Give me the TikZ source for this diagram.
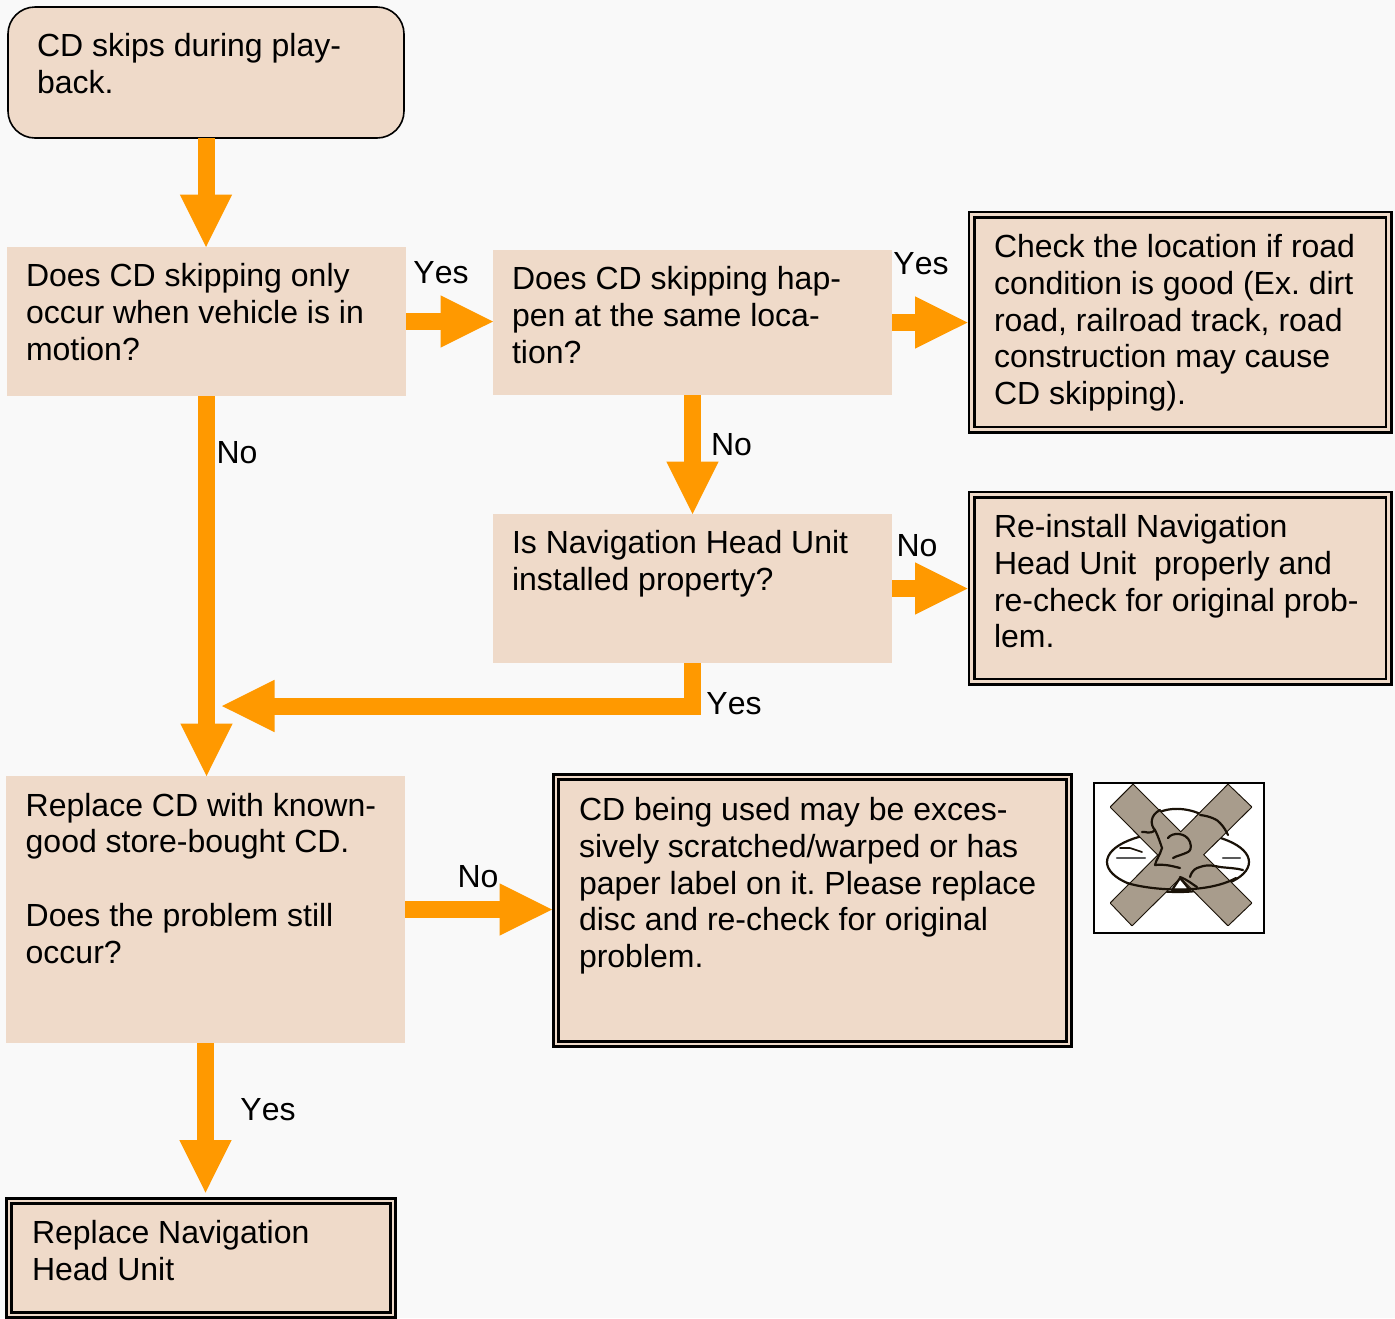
\documentclass[tikz,border=0pt]{standalone}
\usepackage{fontspec}
\setmainfont{Liberation Sans}
\newfontfamily\labfont[Kerning=Off]{Liberation Sans}
\usetikzlibrary{arrows.meta}
\definecolor{pagebg}{HTML}{F9F9F9}
\definecolor{peach}{HTML}{EFDAC9}
\definecolor{flowor}{HTML}{FF9900}
\definecolor{taupe}{HTML}{A89C8C}
\definecolor{inkdk}{HTML}{1A1208}
\newcommand{\boxtext}[5]{\parbox[c][\dimexpr#2pt-10pt\relax][t]{\dimexpr#1pt-10pt\relax}{\frenchspacing\leftskip=\dimexpr#3pt-5pt\relax\rule{0pt}{\dimexpr#4pt-5pt\relax}#5\par}}
\tikzset{
  x=1pt,y=-1pt,
  every node/.style={font=\fontsize{32}{36.8}\selectfont,text=black},
  plainbox/.style={anchor=north west,fill=peach,inner sep=0pt,outer sep=0pt},
  startbox/.style={plainbox,draw=black,line width=1.6pt,rounded corners=27pt},
  dblbox/.style={plainbox,draw=black,fill=peach,line width=2.7pt,double=peach,double distance=2.6pt,outer sep=4pt},
  flow/.style={draw=flowor,line width=17pt,shorten >=-1.5pt,-{Triangle[length=54pt,width=48pt,fill=flowor,color=flowor]}},
  lab/.style={inner sep=0pt,font=\labfont\fontsize{32}{36.8}\selectfont},
  photo/.style={anchor=north west,draw=black,line width=1.5pt,fill=white,inner sep=0pt,outer sep=0pt,minimum width=170pt,minimum height=150pt},
  disc/.style={draw=inkdk,line width=2.2pt,line cap=round,line join=round},
}
\begin{document}
\begin{tikzpicture}
\useasboundingbox (0,0) rectangle (1395,1318);
\fill[pagebg] (0,0) rectangle (1395,1318);
% boxes
\node[startbox,minimum width=396pt,minimum height=131pt] (start) at (8,7)
  {\boxtext{396}{131}{29}{49.5}{CD skips during play-\\back.}};
\node[plainbox,minimum width=399pt,minimum height=149pt] (q1) at (7,247)
  {\boxtext{399}{149}{19}{39.6}{Does CD skipping only\\occur when vehicle is in\\motion?}};
\node[plainbox,minimum width=399pt,minimum height=145pt] (q2) at (493,250)
  {\boxtext{399}{145}{19}{39.6}{Does CD skipping hap-\\pen at the same loca-\\tion?}};
\node[dblbox,minimum width=417pt,minimum height=215pt] (check) at (967.5,210.5)
  {\boxtext{417}{215}{22.5}{43}{Check the location if road\\condition is good (Ex. dirt\\road, railroad track, road\\construction may cause\\CD skipping).}};
\node[plainbox,minimum width=399pt,minimum height=149pt] (q3) at (493,514)
  {\boxtext{399}{149}{19}{39.6}{Is Navigation Head Unit\\installed property?}};
\node[dblbox,minimum width=417pt,minimum height=187pt] (reinstall) at (967.5,490.5)
  {\boxtext{417}{187}{22.5}{42.9}{Re-install Navigation\\Head Unit\ \ properly and\\re-check for original prob-\\lem.}};
\node[plainbox,minimum width=399pt,minimum height=267pt] (replacecd) at (6,776)
  {\boxtext{399}{267}{19.7}{40}{Replace CD with known-\\good store-bought CD.\\[36.8pt]Does the problem still\\occur?}};
\node[dblbox,minimum width=513pt,minimum height=267pt] (used) at (552,773)
  {\boxtext{513}{267}{23}{43.4}{CD being used may be exces-\\sively scratched/warped or has\\paper label on it. Please replace\\disc and re-check for original\\problem.}};
\node[dblbox,minimum width=384pt,minimum height=114pt] (nav) at (5,1197)
  {\boxtext{384}{114}{23}{42.5}{Replace Navigation\\Head Unit}};
% connectors
\coordinate (back) at (222,706);
\draw[flow] (start.south) -- (start.south |- q1.north);
\draw[flow] (q1.east) -- (q1.east -| q2.west);
\draw[flow] (q2.east) -- (q2.east -| check.west);
\draw[flow] (q2.south) -- (q3.north);
\draw[flow] (q3.east) -- (q3.east -| reinstall.west);
\draw[flow] (q1.south) -- (q1.south |- replacecd.north);
\draw[flow] (q3.south) |- (back);
\draw[flow] (replacecd.east) -- (replacecd.east -| used.west);
\draw[flow,shorten >=3pt] (replacecd.south) -- (replacecd.south |- nav.north);
% labels
\node[lab] (l1) at (441,272.7) {Yes};
\node[lab] (l2) at (921,263.7) {Yes};
\node[lab] (l3) at (237,452.7) {No};
\node[lab] (l4) at (731.5,444.7) {No};
\node[lab] (l5) at (917,545.7) {No};
\node[lab] (l6) at (734,703.7) {Yes};
\node[lab] (l7) at (478,876.7) {No};
\node[lab] (l8) at (268,1109.7) {Yes};
% picture
\node[photo] (photo) at (1094,783) {};
\draw[disc,fill=white] (1178,862) ellipse [x radius=71pt,y radius=30pt];
\draw[disc,fill=white] (1152,817) .. controls (1165,805) and (1190,808) .. (1202,815) -- (1180,838) -- cycle;
\draw[disc] (1133,785) -- (1111,807) -- (1228,925) -- (1251,903) -- cycle;
\draw[disc] (1228,785) -- (1251,807) -- (1132,925) -- (1111,903) -- cycle;
\fill[taupe] (1133,785) -- (1111,807) -- (1228,925) -- (1251,903) -- cycle;
\fill[taupe] (1228,785) -- (1251,807) -- (1132,925) -- (1111,903) -- cycle;
% hand and disc marks
\draw[disc,fill=white] (1172,890) -- (1180,878) -- (1190,890) -- cycle;
\draw[disc] (1160,810) .. controls (1150,815) and (1150,825) .. (1155,830) .. controls (1150,835) and (1145,831) .. (1142,832);
\draw[disc] (1155,830) .. controls (1158,836) and (1160,842) .. (1162,848) .. controls (1160,855) and (1156,860) .. (1155,865);
\draw[disc] (1168,838) .. controls (1172,832) and (1186,832) .. (1190,842) .. controls (1192,848) and (1190,851) .. (1188,852) .. controls (1182,855) and (1176,856) .. (1173,858);
\draw[disc] (1155,865) .. controls (1165,864) and (1172,866) .. (1180,868);
\draw[disc] (1200,815) .. controls (1210,816) and (1218,820) .. (1220,823) .. controls (1224,827) and (1226,831) .. (1228,835);
\draw[disc] (1190,877) .. controls (1192,870) and (1196,868) .. (1200,867) .. controls (1208,864) and (1215,866) .. (1220,867) .. controls (1228,868) and (1236,868) .. (1243,870);
\draw[disc] (1180,877) .. controls (1188,880) and (1192,884) .. (1197,887);
\draw[disc] (1127,883) .. controls (1150,890) and (1205,895) .. (1236,878);
\draw[disc,draw=gray!70!black] (1117,858) -- (1145,858) (1223,858) -- (1240,858);
\draw[disc,line width=1.6pt] (1120,848) -- (1130,848) -- (1142,852);
\end{tikzpicture}
\end{document}
